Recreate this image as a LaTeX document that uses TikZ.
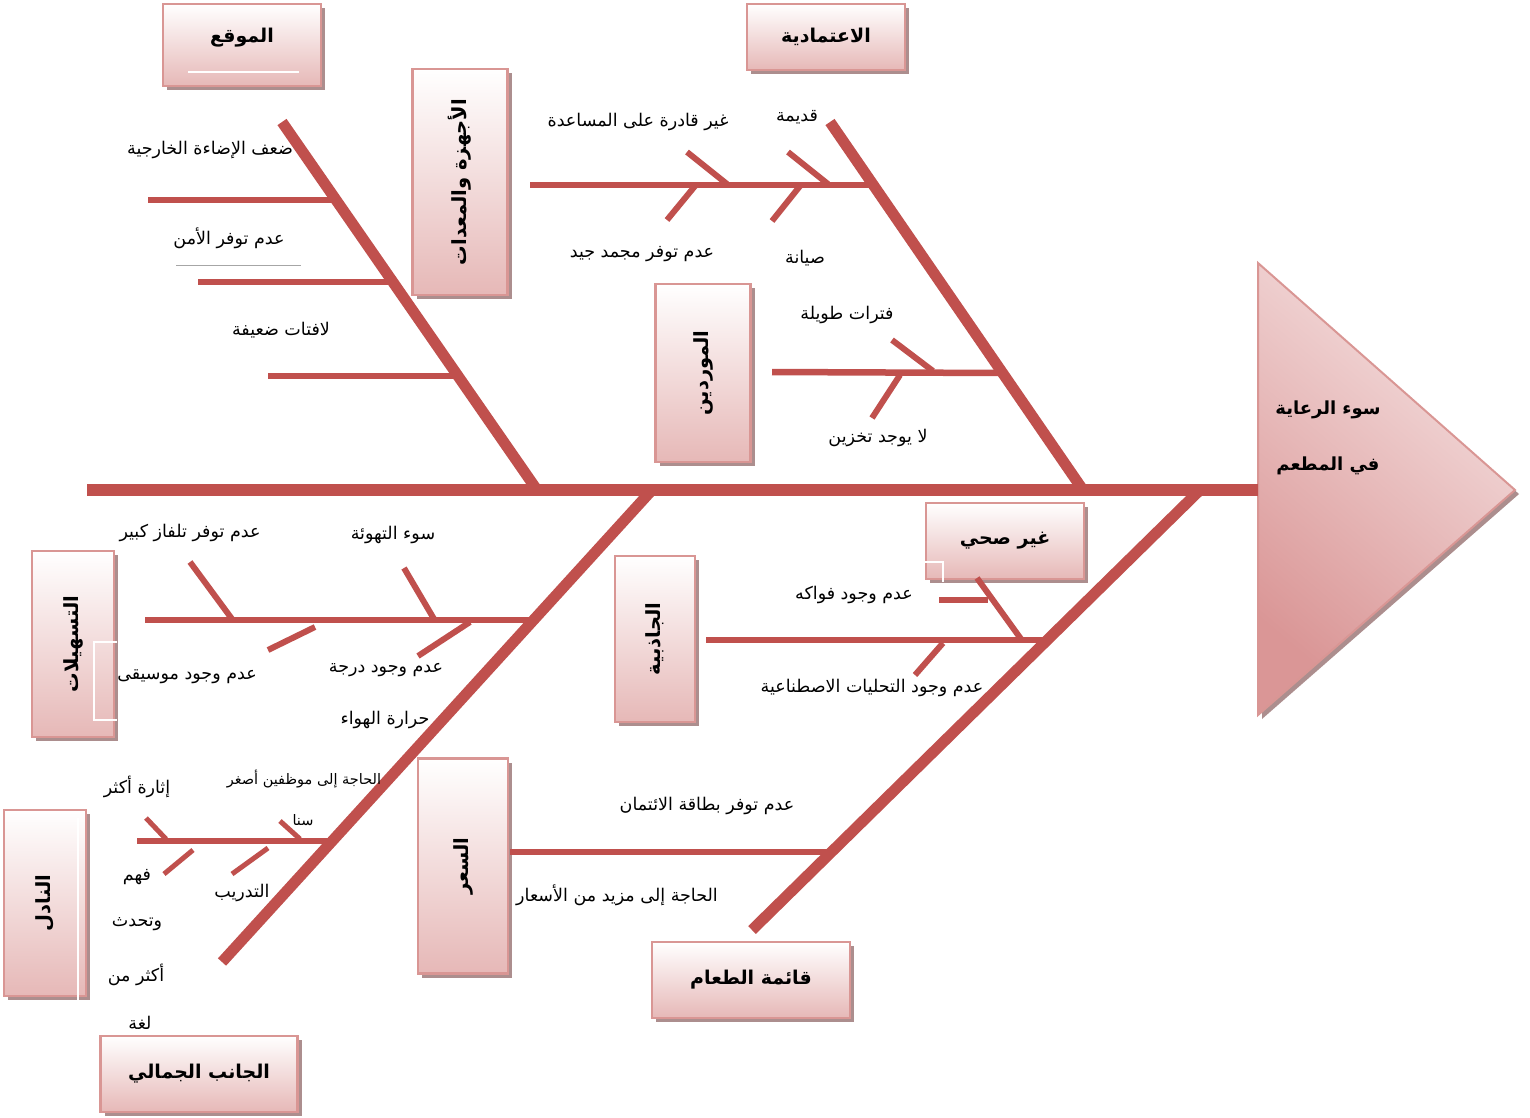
\documentclass[tikz,border=0pt]{standalone}
\usepackage{fontspec}
\usepackage{graphicx}
\usetikzlibrary{shadows}
\newfontfamily\arabicfont[Script=Arabic]{DejaVu Sans}
\TeXXeTstate=1
\newcommand\artxt[1]{{\arabicfont\beginR #1\endR}}
\definecolor{bonered}{RGB}{192,80,77}
\definecolor{boxline}{RGB}{217,150,148}
\definecolor{boxpink}{RGB}{230,184,183}
\definecolor{boxshadow}{RGB}{172,142,142}
\definecolor{trilight}{RGB}{245,225,225}
\definecolor{tridark}{RGB}{218,150,150}
\tikzset{
  spine/.style={draw=bonered, line width=12pt},
  bigbone/.style={draw=bonered, line width=11pt},
  rib/.style={draw=bonered, line width=6.5pt},
  twig/.style={draw=bonered, line width=6pt},
  catbox/.style={draw=boxline, line width=2.5pt, top color=white, bottom color=boxpink,
    drop shadow={shadow xshift=4pt, shadow yshift=-4pt, fill=boxshadow, opacity=1},
    inner sep=0pt, font=\bfseries\fontsize{19}{22}\selectfont},
  vbox/.style={catbox, font=\bfseries\fontsize{19.5}{22}\selectfont},
  lbl/.style={inner sep=1pt, font=\fontsize{17.5}{20}\selectfont},
  smalllbl/.style={inner sep=1pt, font=\fontsize{14.5}{17}\selectfont},
  headlbl/.style={inner sep=1pt, font=\bfseries\fontsize{18}{21}\selectfont}
}
\begin{document}
\begin{tikzpicture}[x=1pt,y=-1pt]
\useasboundingbox (0,0) rectangle (1530,1117);

% ---------- effect head ----------
\coordinate (tA) at (1258,263);
\coordinate (tB) at (1515,490);
\coordinate (tC) at (1258,715);
\coordinate (tM) at (1258,490);
\fill[boxshadow] ([shift={(4,4)}]tA) -- ([shift={(4,4)}]tB) -- ([shift={(4,4)}]tC) -- cycle;
\shade[top color=trilight, bottom color=tridark, shading angle=-40] (tA) -- (tB) -- (tC) -- cycle;
\draw[boxline, line width=2pt, line join=miter] (tA) -- (tB) -- (tC) -- cycle;
\node[headlbl] (eff1) at (1328,410) {\artxt{سوء الرعاية}};
\node[headlbl] (eff2) at (1328,466) {\artxt{في المطعم}};

% ---------- spine ----------
\coordinate (sT) at (87,490);
\draw[spine] (sT) -- (tM);

% ---------- main bones ----------
\coordinate (b1t) at (282,122);  \coordinate (b1s) at (537,490);
\coordinate (b2t) at (830,122);  \coordinate (b2s) at (1083,490);
\coordinate (b3s) at (652,490);  \coordinate (b3t) at (222,962);
\coordinate (b4s) at (1200,490); \coordinate (b4t) at (752,930);
\draw[bigbone] (b1t) -- (b1s);
\draw[bigbone] (b2t) -- (b2s);
\draw[bigbone] (b3s) -- (b3t);
\draw[bigbone] (b4s) -- (b4t);

% ---------- location bone ----------
\node[catbox, minimum width=158pt, minimum height=82pt] (loc) at (242,45) {};
\node[font=\bfseries\fontsize{19}{22}\selectfont, inner sep=0pt] (loctxt) at (242,38) {\artxt{الموقع}};
\draw[white, line width=1.5pt] (188,72) -- (299,72);
\coordinate (r1a) at (148,200); \coordinate (r1b) at (336,200);
\coordinate (r2a) at (198,282); \coordinate (r2b) at (393,282);
\coordinate (r3a) at (268,376); \coordinate (r3b) at (458,376);
\draw[rib] (r1a) -- (r1b);
\draw[rib] (r2a) -- (r2b);
\draw[rib] (r3a) -- (r3b);
\node[lbl] (l1) at (210,150) {\artxt{ضعف الإضاءة الخارجية}};
\node[lbl] (l2) at (229,238) {\artxt{عدم توفر الأمن}};
\draw[gray!70, line width=0.8pt] (176,265) -- (301,265);
\node[lbl] (l3) at (281,330) {\artxt{لافتات ضعيفة}};

% ---------- equipment box ----------
\node[vbox, minimum width=95pt, minimum height=226pt] (equip) at (460,182) {\rotatebox{90}{\artxt{الأجهزة والمعدات}}};

% ---------- reliability bone ----------
\node[catbox, minimum width=158pt, minimum height=66pt] (rel) at (826,37) {\artxt{الاعتمادية}};
\coordinate (r4a) at (530,185); \coordinate (r4b) at (873,185);
\draw[rib] (r4a) -- (r4b);
\coordinate (t1a) at (687,152); \coordinate (t1b) at (727,184);
\coordinate (t2a) at (788,152); \coordinate (t2b) at (828,184);
\coordinate (t3a) at (667,220); \coordinate (t3b) at (695,186);
\coordinate (t4a) at (772,221); \coordinate (t4b) at (800,186);
\draw[twig] (t1a) -- (t1b);
\draw[twig] (t2a) -- (t2b);
\draw[twig] (t3a) -- (t3b);
\draw[twig] (t4a) -- (t4b);
\node[lbl] (l4) at (797,117) {\artxt{قديمة}};
\node[lbl] (l5) at (638,122) {\artxt{غير قادرة على المساعدة}};
\node[lbl] (l6) at (642,254) {\artxt{عدم توفر مجمد جيد}};
\node[lbl] (l7) at (805,258) {\artxt{صيانة}};

% ---------- suppliers ----------
\node[vbox, minimum width=95pt, minimum height=178pt] (supp) at (703,373) {\rotatebox{90}{\artxt{الموردين}}};
\coordinate (r5a) at (772,372); \coordinate (r5b) at (1003,373);
\draw[rib] (r5a) -- (r5b);
\coordinate (t5a) at (892,340); \coordinate (t5b) at (933,371);
\coordinate (t6a) at (872,418); \coordinate (t6b) at (900,375);
\draw[twig] (t5a) -- (t5b);
\draw[twig] (t6a) -- (t6b);
\node[lbl] (l8) at (847,315) {\artxt{فترات طويلة}};
\node[lbl] (l9) at (878,438) {\artxt{لا يوجد تخزين}};

% ---------- facilities ----------
\node[vbox, minimum width=82pt, minimum height=186pt] (fac) at (73,644) {\rotatebox{90}{\artxt{التسهيلات}}};
\draw[white, line width=1.2pt] (117,642) -- (94,642) -- (94,720) -- (117,720);
\coordinate (r6a) at (145,620); \coordinate (r6b) at (534,620);
\draw[rib] (r6a) -- (r6b);
\coordinate (t7a) at (190,562); \coordinate (t7b) at (232,619);
\coordinate (t8a) at (404,568); \coordinate (t8b) at (434,619);
\coordinate (t9a) at (315,627); \coordinate (t9b) at (268,650);
\coordinate (t10a) at (470,622); \coordinate (t10b) at (418,656);
\draw[twig] (t7a) -- (t7b);
\draw[twig] (t8a) -- (t8b);
\draw[twig] (t9a) -- (t9b);
\draw[twig] (t10a) -- (t10b);
\node[lbl] (l10) at (190,533) {\artxt{عدم توفر تلفاز كبير}};
\node[lbl] (l11) at (393,535) {\artxt{سوء التهوئة}};
\node[lbl] (l12) at (187,677) {\artxt{عدم وجود موسيقى}};
\node[lbl] (l13) at (386,670) {\artxt{عدم وجود درجة}};
\node[lbl] (l14) at (385,720) {\artxt{حرارة الهواء}};

% ---------- waiter ----------
\node[vbox, minimum width=82pt, minimum height=186pt] (wait) at (45,903) {\rotatebox{90}{\artxt{النادل}}};
\draw[white, line width=1.2pt] (78,818) -- (78,1000);
\coordinate (r7a) at (137,841); \coordinate (r7b) at (331,841);
\draw[rib, line width=5.5pt] (r7a) -- (r7b);
\coordinate (t11a) at (146,818); \coordinate (t11b) at (166,839);
\coordinate (t12a) at (280,821); \coordinate (t12b) at (300,839);
\coordinate (t13a) at (193,850); \coordinate (t13b) at (164,874);
\coordinate (t14a) at (268,848); \coordinate (t14b) at (232,874);
\draw[twig, line width=5pt] (t11a) -- (t11b);
\draw[twig, line width=5pt] (t12a) -- (t12b);
\draw[twig, line width=5pt] (t13a) -- (t13b);
\draw[twig, line width=5pt] (t14a) -- (t14b);
\node[lbl] (l15) at (137,787) {\artxt{إثارة أكثر}};
\node[smalllbl] (l16) at (304,779) {\artxt{الحاجة إلى موظفين أصغر}};
\node[smalllbl] (l17) at (303,820) {\artxt{سنا}};
\node[lbl] (l18) at (137,877) {\artxt{فهم}};
\node[lbl] (l19) at (137,924) {\artxt{وتحدث}};
\node[lbl] (l20) at (136,975) {\artxt{أكثر من}};
\node[lbl] (l21) at (140,1023) {\artxt{لغة}};
\node[lbl] (l22) at (242,893) {\artxt{التدريب}};
\node[catbox, minimum width=197pt, minimum height=76pt] (aest) at (199,1074) {\artxt{الجانب الجمالي}};

% ---------- unhealthy ----------
\node[catbox, minimum width=158pt, minimum height=76pt] (unh) at (1005,541) {\artxt{غير صحي}};
\draw[white, line width=1.2pt] (925,562) -- (943,562) -- (943,582);
\node[vbox, minimum width=80pt, minimum height=166pt] (attr) at (655,639) {\rotatebox{90}{\artxt{الجاذبية}}};
\coordinate (r8a) at (706,640); \coordinate (r8b) at (1047,640);
\draw[rib] (r8a) -- (r8b);
\coordinate (t15a) at (939,600); \coordinate (t15b) at (988,600);
\coordinate (t16a) at (977,578); \coordinate (t16b) at (1021,639);
\coordinate (t17a) at (943,643); \coordinate (t17b) at (915,675);
\draw[twig] (t15a) -- (t15b);
\draw[twig] (t16a) -- (t16b);
\draw[twig] (t17a) -- (t17b);
\node[lbl] (l23) at (854,595) {\artxt{عدم وجود فواكه}};
\node[lbl] (l24) at (872,688) {\artxt{عدم وجود التحليات الاصطناعية}};

% ---------- price ----------
\node[vbox, minimum width=90pt, minimum height=215pt] (price) at (463,866) {\rotatebox{90}{\artxt{السعر}}};
\coordinate (r9a) at (510,852); \coordinate (r9b) at (831,852);
\draw[rib] (r9a) -- (r9b);
\node[lbl] (l25) at (707,806) {\artxt{عدم توفر بطاقة الائتمان}};
\node[lbl] (l26) at (617,895) {\artxt{الحاجة إلى مزيد من الأسعار}};
\node[catbox, minimum width=198pt, minimum height=76pt] (menu) at (751,980) {\artxt{قائمة الطعام}};
\end{tikzpicture}
\end{document}
